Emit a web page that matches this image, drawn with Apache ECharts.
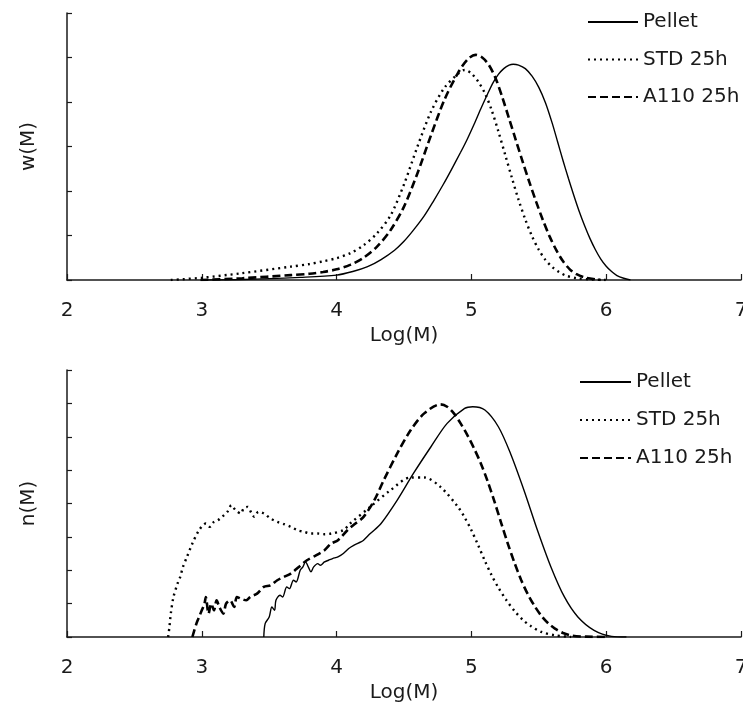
<!DOCTYPE html>
<html>
<head>
<meta charset="utf-8">
<script src="https://cdn.jsdelivr.net/npm/echarts@6/dist/echarts.min.js"></script>
<style>html,body{margin:0;padding:0;background:#fff}#c{width:743px;height:706px}</style>
</head>
<body>
<div id="c"></div>
<script>
// x tick labels (Log(M))
const xTicks = [2, 3, 4, 5, 6, 7];
const seriesNames = ['Pellet', 'STD 25h', 'A110 25h'];

// Top chart: w(M) vs Log(M)
const wPellet = [[3.0,0],[3.3,0.01],[3.73,0.06],[4.0,0.11],[4.12,0.19],[4.23,0.30],[4.33,0.46],[4.43,0.67],[4.50,0.87],[4.57,1.12],[4.65,1.44],[4.72,1.78],[4.79,2.14],[4.85,2.47],[4.92,2.87],[4.97,3.17],[5.02,3.5],[5.07,3.85],[5.12,4.18],[5.16,4.43],[5.20,4.62],[5.24,4.75],[5.28,4.83],[5.31,4.85],[5.35,4.83],[5.40,4.75],[5.45,4.58],[5.50,4.33],[5.55,3.98],[5.60,3.52],[5.64,3.1],[5.68,2.68],[5.72,2.28],[5.76,1.9],[5.80,1.54],[5.84,1.22],[5.88,0.93],[5.92,0.68],[5.96,0.47],[6.0,0.31],[6.04,0.19],[6.08,0.1],[6.13,0.04],[6.18,0]];
const wSTD = [[2.77,0],[3.0,0.05],[3.29,0.15],[3.66,0.30],[3.8,0.36],[3.9,0.42],[4.0,0.49],[4.1,0.6],[4.2,0.78],[4.3,1.05],[4.4,1.45],[4.5,2.15],[4.6,3.0],[4.7,3.78],[4.8,4.32],[4.9,4.63],[4.95,4.72],[5.0,4.64],[5.05,4.46],[5.10,4.2],[5.15,3.82],[5.20,3.34],[5.25,2.82],[5.30,2.3],[5.35,1.8],[5.40,1.36],[5.45,0.98],[5.50,0.68],[5.55,0.45],[5.60,0.29],[5.65,0.18],[5.70,0.1],[5.78,0.04],[5.9,0.01],[6.0,0]];
const wA110 = [[2.99,0],[3.3,0.04],[3.66,0.11],[3.8,0.14],[3.9,0.18],[4.0,0.24],[4.1,0.34],[4.2,0.5],[4.3,0.75],[4.4,1.12],[4.5,1.65],[4.6,2.4],[4.7,3.25],[4.8,4.05],[4.9,4.65],[4.97,4.95],[5.03,5.06],[5.08,5.0],[5.13,4.83],[5.18,4.53],[5.23,4.1],[5.28,3.62],[5.33,3.14],[5.38,2.66],[5.43,2.2],[5.48,1.76],[5.53,1.35],[5.58,0.98],[5.63,0.67],[5.68,0.42],[5.73,0.24],[5.78,0.13],[5.85,0.05],[5.96,0]];

// Bottom chart: n(M) vs Log(M)
const nPellet = [[3.46,0],[3.47,0.4],[3.50,0.6],[3.52,0.9],[3.54,0.8],[3.55,1.1],[3.58,1.25],[3.60,1.2],[3.63,1.5],[3.65,1.45],[3.68,1.7],[3.70,1.65],[3.73,2.0],[3.75,2.1],[3.77,2.25],[3.79,2.1],[3.81,1.95],[3.83,2.1],[3.86,2.2],[3.88,2.15],[3.91,2.25],[3.94,2.3],[3.97,2.35],[4.01,2.4],[4.05,2.5],[4.09,2.65],[4.13,2.75],[4.18,2.85],[4.20,2.9],[4.25,3.1],[4.33,3.4],[4.45,4.1],[4.57,4.9],[4.70,5.7],[4.82,6.4],[4.95,6.85],[5.01,6.9],[5.10,6.8],[5.20,6.3],[5.29,5.5],[5.39,4.4],[5.49,3.2],[5.59,2.1],[5.69,1.2],[5.79,0.6],[5.91,0.2],[6.04,0.02],[6.15,0]];
const nSTD = [[2.75,0],[2.76,0.3],[2.77,0.7],[2.79,1.2],[2.82,1.6],[2.84,1.8],[2.86,2.1],[2.89,2.4],[2.93,2.8],[2.98,3.2],[3.03,3.4],[3.06,3.3],[3.09,3.45],[3.12,3.5],[3.15,3.6],[3.19,3.75],[3.22,3.95],[3.25,3.8],[3.29,3.7],[3.31,3.85],[3.34,3.9],[3.37,3.7],[3.39,3.6],[3.42,3.75],[3.46,3.7],[3.51,3.55],[3.56,3.45],[3.61,3.38],[3.66,3.3],[3.71,3.2],[3.76,3.15],[3.81,3.1],[3.86,3.1],[3.91,3.08],[3.96,3.1],[4.05,3.2],[4.10,3.4],[4.25,3.9],[4.40,4.4],[4.55,4.78],[4.65,4.78],[4.77,4.5],[4.90,3.9],[4.95,3.58],[5.0,3.2],[5.05,2.75],[5.10,2.28],[5.15,1.85],[5.20,1.48],[5.26,1.1],[5.32,0.78],[5.38,0.52],[5.44,0.33],[5.52,0.15],[5.62,0.05],[5.74,0]];
const nA110 = [[2.93,0],[2.96,0.4],[2.98,0.6],[3.0,0.8],[3.02,1.0],[3.03,1.2],[3.05,0.7],[3.07,1.0],[3.09,0.8],[3.11,1.1],[3.13,0.9],[3.16,0.7],[3.18,1.0],[3.21,1.1],[3.24,0.9],[3.26,1.2],[3.29,1.15],[3.33,1.1],[3.36,1.2],[3.41,1.3],[3.46,1.5],[3.51,1.55],[3.56,1.7],[3.61,1.8],[3.66,1.9],[3.72,2.1],[3.78,2.3],[3.85,2.45],[3.91,2.6],[3.96,2.8],[4.01,2.9],[4.08,3.2],[4.14,3.4],[4.20,3.6],[4.28,4.1],[4.35,4.7],[4.45,5.5],[4.55,6.2],[4.65,6.7],[4.77,6.97],[4.82,6.9],[4.87,6.7],[4.92,6.4],[4.97,6.05],[5.02,5.65],[5.07,5.2],[5.12,4.67],[5.17,4.07],[5.22,3.43],[5.27,2.8],[5.32,2.22],[5.37,1.7],[5.42,1.27],[5.47,0.92],[5.52,0.63],[5.57,0.41],[5.62,0.25],[5.68,0.12],[5.75,0.04],[5.85,0.01],[6.0,0]];

const FONT = 'DejaVu Sans';
const INK = '#1a1a1a';
const styles = [
  {type: 'solid', width: 1.4},
  {type: [2, 4], width: 2.4},
  {type: [8, 4], width: 2.6}
];

function xAxis(gridIndex) {
  return {
    type: 'value', gridIndex, min: xTicks[0], max: xTicks[xTicks.length - 1], interval: 1,
    name: 'Log(M)', nameLocation: 'middle', nameGap: 46,
    nameTextStyle: {fontFamily: FONT, fontSize: 20, color: INK},
    axisLine: {show: true, onZero: false, lineStyle: {color: INK, width: 1.5}},
    axisTick: {show: true, inside: true, length: 6, lineStyle: {color: INK, width: 1.2}},
    axisLabel: {fontFamily: FONT, fontSize: 20, color: INK, margin: 21, hideOverlap: false,
      formatter: v => xTicks.indexOf(v) >= 0 ? String(v) : ''},
    splitLine: {show: false}
  };
}
function yAxis(gridIndex, name, max) {
  return {
    type: 'value', gridIndex, min: 0, max, interval: 1,
    name, nameLocation: 'middle', nameGap: 28, nameRotate: 90,
    nameTextStyle: {fontFamily: FONT, fontSize: 20, color: INK},
    axisLine: {show: true, lineStyle: {color: INK, width: 1.5}},
    axisTick: {show: true, inside: true, length: 5, lineStyle: {color: INK, width: 1.2}},
    axisLabel: {show: false},
    splitLine: {show: false}
  };
}
function mk(name, data, i, axisIndex) {
  return {
    name, type: 'line', data, xAxisIndex: axisIndex, yAxisIndex: axisIndex,
    symbol: 'none', smooth: 0.3, silent: true, animation: false,
    color: '#000', itemStyle: {color: '#000'},
    lineStyle: {color: '#000', type: styles[i].type, width: styles[i].width, cap: 'butt'}
  };
}
function legend(left, top, itemWidth, gap) {
  return {
    orient: 'vertical', left, top, itemWidth, itemHeight: 14, itemGap: gap,
    selectedMode: false, data: seriesNames,
    itemStyle: {opacity: 0, color: 'rgba(0,0,0,0)', borderWidth: 0},
    lineStyle: {opacity: 1},
    textStyle: {fontFamily: FONT, fontSize: 20, color: INK, lineHeight: 22}
  };
}

const chart = echarts.init(document.getElementById('c'), null, {renderer: 'canvas'});
chart.setOption({
  animation: false,
  backgroundColor: '#fff',
  grid: [
    {left: 67, right: 2, top: 13, height: 267, containLabel: false, outerBoundsMode: 'none'},
    {left: 67, right: 2, top: 370, height: 267, containLabel: false, outerBoundsMode: 'none'}
  ],
  xAxis: [xAxis(0), xAxis(1)],
  yAxis: [yAxis(0, 'w(M)', 6), yAxis(1, 'n(M)', 8)],
  legend: [legend(582, 6, 50, 15.5), legend(574, 366, 51, 16)],
  series: [
    mk(seriesNames[0], wPellet, 0, 0),
    mk(seriesNames[1], wSTD, 1, 0),
    mk(seriesNames[2], wA110, 2, 0),
    mk(seriesNames[0], nPellet, 0, 1),
    mk(seriesNames[1], nSTD, 1, 1),
    mk(seriesNames[2], nA110, 2, 1)
  ]
});
</script>
</body>
</html>
